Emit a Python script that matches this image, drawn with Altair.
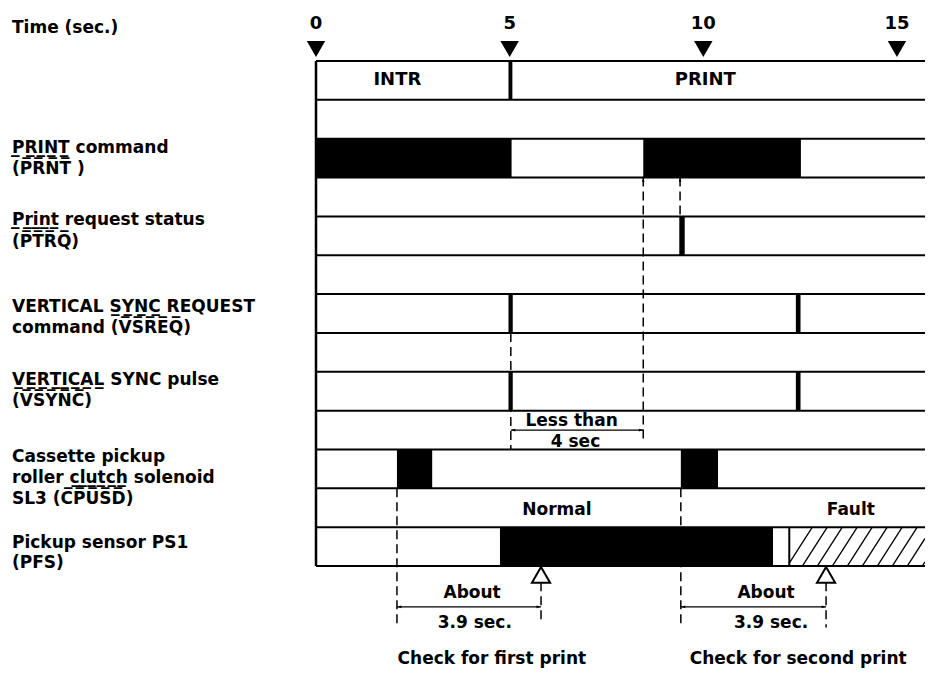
import altair as alt
import pandas as pd

# ---------------- data (times in seconds, rows counted from the top) ----------------
time_ticks = [0, 5, 10, 15]
time_tick_labels = ["0", "5", "10", "15"]

mode_names = ["INTR", "PRINT"]
mode_label_t = [2.1, 10.05]
mode_divider = [[4.97, 5.07]]

# "on" intervals of every signal (black in the diagram)
prnt_on = [[0.0, 5.05], [8.45, 12.52]]
ptrq_on = [[9.38, 9.52]]
vsreq_on = [[4.97, 5.08], [12.39, 12.51]]
vsync_on = [[4.97, 5.08], [12.39, 12.51]]
cpusd_on = [[2.09, 3.0], [9.42, 10.38]]
pfs_on = [[4.75, 11.8]]
pfs_fault_start = 12.22

signal_rows = {"mode": 0, "PRNT": 2, "PTRQ": 4, "VSREQ": 6, "VSYNC": 8, "CPUSD": 10, "PFS": 12}
n_rows = 13

# dashed timing guides: time, from row, to row
guide_t = [8.45, 9.40, 5.03, 2.09, 9.42, 5.81, 13.17]
guide_from = [3.0, 3.0, 7.0, 11.0, 11.0, 13.42, 13.42]
guide_to = [9.72, 4.0, 10.0, 14.57, 14.57, 14.48, 14.58]

# dimension arrows
arrow_start = [5.03, 2.09, 9.42]
arrow_end = [8.45, 5.81, 13.17]
arrow_row = [9.5, 14.05, 14.05]

# check points (open triangles)
check_t = [5.81, 13.17]

annot_text = ["Less than", "4 sec", "Normal", "Fault", "About", "3.9 sec.",
              "About", "3.9 sec.", "Check for first print", "Check for second print"]
annot_t = [6.6, 6.7, 6.22, 13.81, 4.03, 4.1, 11.62, 11.75, 4.54, 12.45]
annot_row = [9.27, 9.81, 11.56, 11.56, 13.69, 14.47, 13.69, 14.47, 15.4, 15.4]


def over(s):
    return "".join(c + "\u0305" for c in s)


def under(s):
    return "".join(c + "\u0332" for c in s)


label_lines = [
    "Time (sec.)",
    under("PRINT") + " command", "(" + over("PRNT") + " )",
    under("Print") + " request status", "(" + over("PTRQ") + ")",
    "VERTICAL " + under("SYNC") + " REQUEST", "command (" + over("VSREQ") + ")",
    under("VERTICAL") + " SYNC pulse", "(" + over("VSYNC") + ")",
    "Cassette pickup", "roller " + under("clutch") + " solenoid", "SL3 (" + over("CPUSD") + ")",
    "Pickup sensor PS1", "(PFS)",
]
label_row = [-0.85, 2.24, 2.78, 4.09, 4.66, 6.34, 6.88, 8.22, 8.75,
             10.19, 10.73, 11.27, 12.41, 12.92]

# ---------------- layout ----------------
PX_PER_S = 38.73
ROW_PX = 38.85
PLOT_W = 609
PLOT_H = 663
LEFT_PAD = 308
T_END = PLOT_W / PX_PER_S
Y_TOP = (8 - 61) / ROW_PX
Y_BOT = Y_TOP + PLOT_H / ROW_PX
FONT = "DejaVu Sans"

XS = alt.Scale(domain=[0, T_END], nice=False, zero=False)
YS = alt.Scale(domain=[Y_TOP, Y_BOT], reverse=True, nice=False, zero=False)


def X(f):
    return alt.X(f, type="quantitative", scale=XS, axis=None)


def Y(f):
    return alt.Y(f, type="quantitative", scale=YS, axis=None)


# ---------------- tables ----------------
rect_rows = []
for name, ivs in [("mode", mode_divider), ("PRNT", prnt_on), ("PTRQ", ptrq_on),
                  ("VSREQ", vsreq_on), ("VSYNC", vsync_on), ("CPUSD", cpusd_on), ("PFS", pfs_on)]:
    r = signal_rows[name]
    for a, b in ivs:
        rect_rows.append({"t0": a, "t1": b, "r0": r, "r1": r + 1})
rects = pd.DataFrame(rect_rows)

# hatch of the fault region (texture)
hatch_slant = 0.645
hatch_step = 0.387
pfs_r = signal_rows["PFS"]
hatch = []
b = pfs_fault_start - 0.05
while b < T_END:
    x0, y0 = b, pfs_r + 1.0
    x1, y1 = b + hatch_slant, float(pfs_r)
    if x0 < pfs_fault_start:
        y0 = pfs_r + 1.0 - (pfs_fault_start - b) / hatch_slant
        x0 = pfs_fault_start
    if x1 > T_END:
        y1 = pfs_r + 1.0 - (T_END - b) / hatch_slant
        x1 = T_END
    hatch.append({"t0": x0, "t1": x1, "r0": y0, "r1": y1})
    b += hatch_step
hatch_df = pd.DataFrame(hatch)

row_lines = pd.DataFrame({"r": list(range(n_rows + 1))})
left_border = pd.DataFrame({"t": [0.0], "r0": [0.0], "r1": [float(n_rows)]})
fault_line = pd.DataFrame({"t": [pfs_fault_start], "r0": [float(pfs_r)], "r1": [pfs_r + 1.0]})
guides = pd.DataFrame({"t": guide_t, "r0": guide_from, "r1": guide_to})
arrows = pd.DataFrame({"t0": arrow_start, "t1": arrow_end, "r": arrow_row})
up_heads = pd.DataFrame({"t": guide_t[:2], "r": [3.0, 3.0]})
checks = pd.DataFrame({"t": check_t, "r": [13.23] * len(check_t)})
ticks = pd.DataFrame({"t": time_ticks, "lab": time_tick_labels})
modes = pd.DataFrame({"t": mode_label_t, "lab": mode_names, "r": [0.5, 0.5]})
annots = pd.DataFrame({"t": annot_t, "lab": annot_text, "r": annot_row})
labels = pd.DataFrame({"lab": label_lines, "r": label_row})

# ---------------- layers ----------------
black_rects = alt.Chart(rects).mark_rect(color="black").encode(
    x=X("t0"), x2="t1", y=Y("r0"), y2="r1")

hatch_lines = alt.Chart(hatch_df).mark_rule(color="black", strokeWidth=1.3).encode(
    x=X("t0"), x2="t1", y=Y("r0"), y2="r1")

row_rules = alt.Chart(row_lines).mark_rule(color="black", strokeWidth=2).encode(
    y=Y("r"), x=alt.value(0), x2=alt.value(PLOT_W))

border = alt.Chart(left_border).mark_rule(color="black", strokeWidth=2.5).encode(
    x=X("t"), y=Y("r0"), y2="r1")

fault = alt.Chart(fault_line).mark_rule(color="black", strokeWidth=2).encode(
    x=X("t"), y=Y("r0"), y2="r1")

guide_rules = alt.Chart(guides).mark_rule(color="black", strokeWidth=1.5, strokeDash=[9, 5]).encode(
    x=X("t"), y=Y("r0"), y2="r1")

arrow_rules = alt.Chart(arrows).mark_rule(color="black", strokeWidth=1.3).encode(
    x=X("t0"), x2="t1", y=Y("r"))

left_heads = alt.Chart(arrows).mark_point(
    shape="M0,0 L3,-0.9 L3,0.9 Z", filled=True, color="black", size=9, opacity=1).encode(
    x=X("t0"), y=Y("r"))
right_heads = alt.Chart(arrows).mark_point(
    shape="M0,0 L-3,-0.9 L-3,0.9 Z", filled=True, color="black", size=9, opacity=1).encode(
    x=X("t1"), y=Y("r"))
top_heads = alt.Chart(up_heads).mark_point(
    shape="M0,0 L-0.8,3 L0.8,3 Z", filled=True, color="black", size=9, opacity=1).encode(
    x=X("t"), y=Y("r"))

check_marks = alt.Chart(checks).mark_point(
    shape="triangle-up", filled=True, fill="white", stroke="black", strokeWidth=2,
    size=330, opacity=1).encode(x=X("t"), y=Y("r"))

tick_marks = alt.Chart(ticks).mark_point(
    shape="triangle-down", filled=True, color="black", size=340, opacity=1).encode(
    x=X("t"), y=alt.Y("r:Q", scale=YS, axis=None)).transform_calculate(r="-0.31")

tick_text = alt.Chart(ticks).mark_text(
    font=FONT, fontWeight="bold", fontSize=18, color="black", baseline="middle").encode(
    x=X("t"), y=alt.Y("r:Q", scale=YS, axis=None), text="lab").transform_calculate(r="-0.965")

mode_text = alt.Chart(modes).mark_text(
    font=FONT, fontWeight="bold", fontSize=18, color="black", baseline="middle").encode(
    x=X("t"), y=Y("r"), text="lab")

annot_marks = alt.Chart(annots).mark_text(
    font=FONT, fontWeight="bold", fontSize=17, color="black", baseline="middle").encode(
    x=X("t"), y=Y("r"), text="lab")

label_marks = alt.Chart(labels).mark_text(
    font=FONT, fontWeight="bold", fontSize=17, color="black", baseline="middle",
    align="left").encode(x=alt.value(12 - 316), y=Y("r"), text="lab")

chart = alt.layer(
    black_rects, hatch_lines, row_rules, border, fault, guide_rules,
    arrow_rules, left_heads, right_heads, top_heads, check_marks,
    tick_marks, tick_text, mode_text, annot_marks, label_marks,
).properties(
    width=PLOT_W, height=PLOT_H,
    padding={"left": LEFT_PAD, "top": 0, "right": 0, "bottom": 0},
    autosize=alt.AutoSizeParams(type="none"),
    background="white",
).configure_view(stroke=None)

chart.save("out.html", embed_options={"renderer": "svg", "actions": False})
